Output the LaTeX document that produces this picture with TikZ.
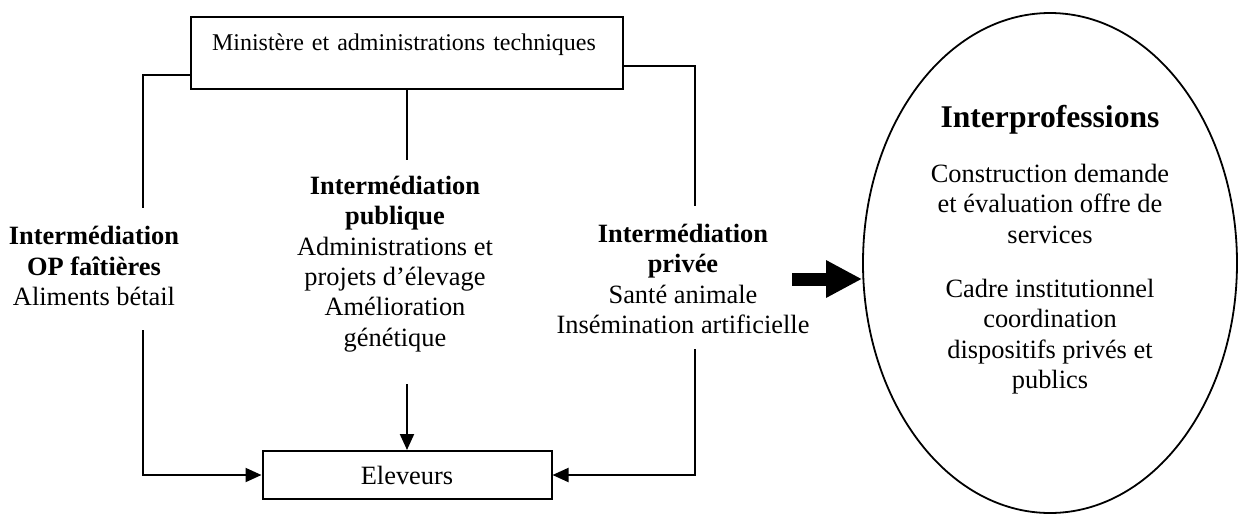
\documentclass[tikz,border=0pt]{standalone}
\usepackage{fontspec}
\setmainfont{Liberation Serif}
\usepackage{tikz}
\usetikzlibrary{arrows.meta,shapes,positioning,calc}
\tikzset{
    box/.style={draw,rectangle,line width=1pt,inner sep=0pt,align=center,font=\fontsize{13.2}{15.2}\selectfont},
    top_box/.style={draw,rectangle,line width=1pt,inner xsep=10.5pt,inner ysep=0pt,text width=195pt,align=left,text height=9pt,text depth=12pt,minimum height=36pt,font=\fontsize{12}{13.8}\selectfont},
    ell/.style={draw,ellipse,line width=0.9pt,minimum width=187pt,minimum height=250pt},
    txt/.style={align=center,inner sep=0pt,font=\fontsize{13.2}{15.2}\selectfont},
    line/.style={-,line width=1pt},
    arr/.style={-{Triangle[length=8pt,width=7pt]},line width=1pt},
    big_arr/.style={-{Triangle[length=18pt,width=17.5pt]},line width=6.5pt},
}
\begin{document}
\begin{tikzpicture}[x=0.5pt,y=-0.5pt]
                \useasboundingbox (0,0) rectangle (1239,516);
                \node[top_box] (mini) at (407,53) {Ministère et administrations techniques};
                \node[box,minimum width=144.5pt,minimum height=24pt,below=180pt of mini] (elev) {Eleveurs};
                \node[txt] (opf) at (94,266) {\textbf{Intermédiation}\\\textbf{OP faîtières}\\Aliments bétail};
                \node[txt] (pub) at (395,264) {\textbf{Intermédiation}\\\textbf{publique}\\Administrations et\\projets d’élevage\\Amélioration\\génétique};
                \node[txt] (priv) at (683,279) {\textbf{Intermédiation}\\\textbf{privée}\\Santé animale\\Insémination artificielle};
                \node[ell] (inter) at (1050,263) {};
                \node[txt] (inter_txt) at ($(inter)+(0,-13)$) {{\fontsize{15.8}{18}\selectfont\textbf{Interprofessions}}\\[12pt]Construction demande\\et évaluation offre de\\services\\[12pt]Cadre institutionnel\\coordination\\dispositifs privés et\\publics};
                \coordinate (l_top) at (143,208);
                \coordinate (l_bot) at (143,330);
                \coordinate (c_top) at (407,160);
                \coordinate (c_bot) at (407,384);
                \coordinate (r_top) at (695,206);
                \coordinate (r_bot) at (695,349);
                \coordinate (b_tail) at (792,279);
                \draw[line] ($(mini.south west)!0.2!(mini.north west)$) -| (l_top);
                \draw[arr] (l_bot) |- (elev.west);
                \draw[line] (mini.south) -- (c_top);
                \draw[arr] (c_bot) -- (elev.north);
                \draw[line] ($(mini.south east)!0.32!(mini.north east)$) -| (r_top);
                \draw[arr] (r_bot) |- (elev.east);
                \draw[big_arr] (b_tail) -- (b_tail -| inter.west);
            \end{tikzpicture}
\end{document}
